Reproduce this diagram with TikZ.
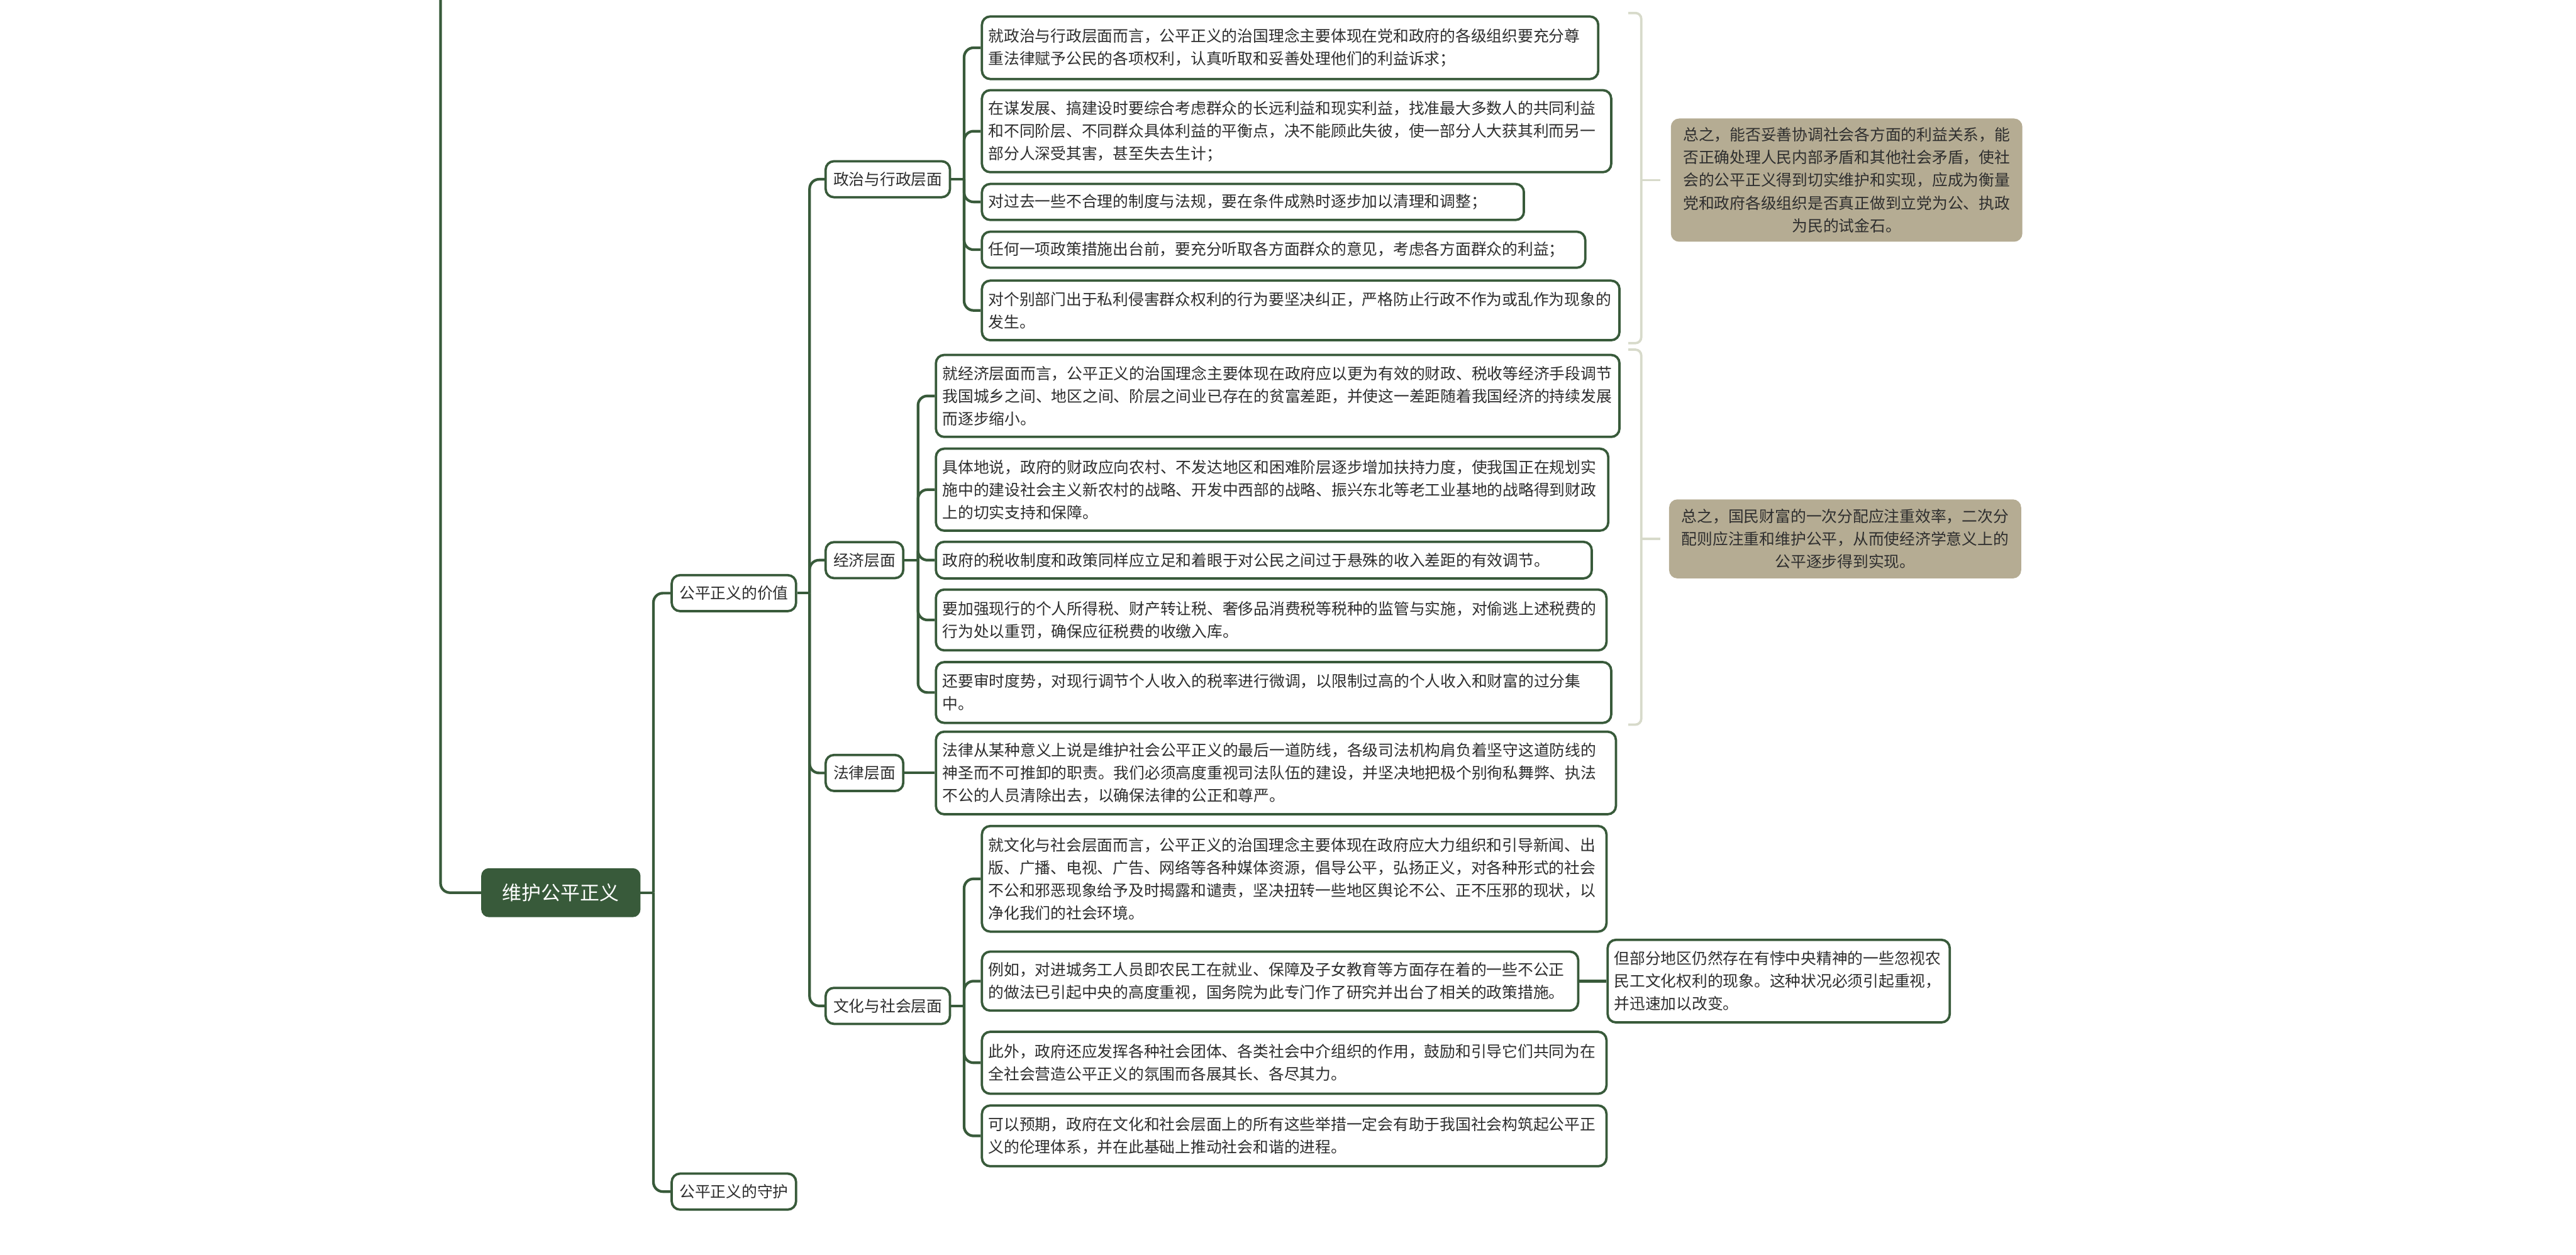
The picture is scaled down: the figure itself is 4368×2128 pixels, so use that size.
\documentclass[tikz,border=0pt]{standalone}
\usepackage{fontspec}
\newfontfamily\cjk{Noto Sans CJK SC}
\definecolor{dg}{HTML}{385A3A}
\definecolor{sumtan}{HTML}{B5AC93}
\definecolor{brkc}{HTML}{D7DACA}
\definecolor{txt}{HTML}{2E2E2E}
\begin{document}
\begin{tikzpicture}[x=1pt,y=-1pt,
  conn/.style={draw=dg, line width=4.5pt, rounded corners=16pt},
  brk/.style={draw=brkc, line width=4pt, rounded corners=10pt},
  leaf/.style={draw=dg, line width=4pt, rounded corners=14pt, fill=white, anchor=west,
    align=left, inner xsep=11pt, inner ysep=0pt, text=txt,
    font=\cjk\fontsize{26.4}{38.5}\selectfont},
  lab/.style={draw=dg, line width=4pt, rounded corners=14pt, fill=white, anchor=west,
    inner xsep=13pt, inner ysep=0pt, minimum height=61pt, text=txt,
    font=\cjk\fontsize{26.4}{30}\selectfont},
  summ/.style={fill=sumtan, draw=none, rounded corners=14pt, anchor=west,
    align=center, inner xsep=20pt, inner ysep=0pt, text=txt,
    font=\cjk\fontsize{26.4}{38.5}\selectfont},
  rootbox/.style={fill=dg, draw=dg, line width=2pt, rounded corners=12pt, anchor=west,
    text=white, minimum width=268pt, minimum height=81pt,
    font=\cjk\fontsize{33}{36}\selectfont}
]
\useasboundingbox (0,0) rectangle (4368,2128);

% root and level 1
\node[rootbox] (root) at (816,1514) {维护公平正义};
\node[lab] (V) at (1137,1006) {公平正义的价值};
\node[lab] (G) at (1137,2021) {公平正义的守护};

% level 2
\node[lab] (Pol) at (1398,304) {政治与行政层面};
\node[lab] (Eco) at (1398,950) {经济层面};
\node[lab] (Law) at (1398,1311) {法律层面};
\node[lab] (Cul) at (1398,1706) {文化与社会层面};

% politics leaves
\node[leaf, text width=1023pt, minimum height=106pt] (P1) at (1663,81)
 {就政治与行政层面而言，公平正义的治国理念主要体现在党和政府的各级组织要充分尊\\重法律赋予公民的各项权利，认真听取和妥善处理他们的利益诉求；};
\node[leaf, text width=1045pt, minimum height=139pt] (P2) at (1663,222.5)
 {在谋发展、搞建设时要综合考虑群众的长远利益和现实利益，找准最大多数人的共同利益\\和不同阶层、不同群众具体利益的平衡点，决不能顾此失彼，使一部分人大获其利而另一\\部分人深受其害，甚至失去生计；};
\node[leaf, text width=897pt, minimum height=61pt] (P3) at (1663,342.5)
 {对过去一些不合理的制度与法规，要在条件成熟时逐步加以清理和调整；};
\node[leaf, text width=1001pt, minimum height=61pt] (P4) at (1663,423.5)
 {任何一项政策措施出台前，要充分听取各方面群众的意见，考虑各方面群众的利益；};
\node[leaf, text width=1059pt, minimum height=101pt] (P5) at (1663,526.5)
 {对个别部门出于私利侵害群众权利的行为要坚决纠正，严格防止行政不作为或乱作为现象的\\发生。};

% economy leaves
\node[leaf, text width=1137pt, minimum height=139pt] (E1) at (1585,671.5)
 {就经济层面而言，公平正义的治国理念主要体现在政府应以更为有效的财政、税收等经济手段调节\\我国城乡之间、地区之间、阶层之间业已存在的贫富差距，并使这一差距随着我国经济的持续发展\\而逐步缩小。};
\node[leaf, text width=1118pt, minimum height=139pt] (E2) at (1585,830.5)
 {具体地说，政府的财政应向农村、不发达地区和困难阶层逐步增加扶持力度，使我国正在规划实\\施中的建设社会主义新农村的战略、开发中西部的战略、振兴东北等老工业基地的战略得到财政\\上的切实支持和保障。};
\node[leaf, text width=1090pt, minimum height=62pt] (E3) at (1585,950)
 {政府的税收制度和政策同样应立足和着眼于对公民之间过于悬殊的收入差距的有效调节。};
\node[leaf, text width=1115pt, minimum height=103pt] (E4) at (1585,1051.5)
 {要加强现行的个人所得税、财产转让税、奢侈品消费税等税种的监管与实施，对偷逃上述税费的\\行为处以重罚，确保应征税费的收缴入库。};
\node[leaf, text width=1123pt, minimum height=103pt] (E5) at (1585,1174.5)
 {还要审时度势，对现行调节个人收入的税率进行微调，以限制过高的个人收入和财富的过分集\\中。};

% law leaf
\node[leaf, text width=1131pt, minimum height=140pt] (L1) at (1585,1311)
 {法律从某种意义上说是维护社会公平正义的最后一道防线，各级司法机构肩负着坚守这道防线的\\神圣而不可推卸的职责。我们必须高度重视司法队伍的建设，并坚决地把极个别徇私舞弊、执法\\不公的人员清除出去，以确保法律的公正和尊严。};

% culture leaves
\node[leaf, text width=1037pt, minimum height=179pt] (C1) at (1663,1490.5)
 {就文化与社会层面而言，公平正义的治国理念主要体现在政府应大力组织和引导新闻、出\\版、广播、电视、广告、网络等各种媒体资源，倡导公平，弘扬正义，对各种形式的社会\\不公和邪恶现象给予及时揭露和谴责，坚决扭转一些地区舆论不公、正不压邪的现状，以\\净化我们的社会环境。};
\node[leaf, text width=989pt, minimum height=100pt] (C2) at (1663,1664)
 {例如，对进城务工人员即农民工在就业、保障及子女教育等方面存在着的一些不公正\\的做法已引起中央的高度重视，国务院为此专门作了研究并出台了相关的政策措施。};
\node[leaf, text width=558pt, minimum height=140pt] (C2s) at (2724,1664)
 {但部分地区仍然存在有悖中央精神的一些忽视农\\民工文化权利的现象。这种状况必须引起重视，\\并迅速加以改变。};
\node[leaf, text width=1037pt, minimum height=105pt] (C3) at (1663,1802.5)
 {此外，政府还应发挥各种社会团体、各类社会中介组织的作用，鼓励和引导它们共同为在\\全社会营造公平正义的氛围而各展其长、各尽其力。};
\node[leaf, text width=1037pt, minimum height=103pt] (C4) at (1663,1926.5)
 {可以预期，政府在文化和社会层面上的所有这些举措一定会有助于我国社会构筑起公平正\\义的伦理体系，并在此基础上推动社会和谐的进程。};

% summaries
\node[summ, text width=556pt, minimum height=209pt] (S1) at (2833,305.5)
 {总之，能否妥善协调社会各方面的利益关系，能\\否正确处理人民内部矛盾和其他社会矛盾，使社\\会的公平正义得到切实维护和实现，应成为衡量\\党和政府各级组织是否真正做到立党为公、执政\\为民的试金石。};
\node[summ, text width=557pt, minimum height=134pt] (S2) at (2830,914)
 {总之，国民财富的一次分配应注重效率，二次分\\配则应注重和维护公平，从而使经济学意义上的\\公平逐步得到实现。};

% trunk coordinates
\path (root.east) ++(22,0) coordinate (tR);
\path (V.east) ++(21,0) coordinate (tV);
\path (Pol.east) ++(22,0) coordinate (tP);
\path (Eco.east) ++(23,0) coordinate (tE);
\path (Cul.east) ++(22,0) coordinate (tC);
\coordinate (topc) at (747,-10);

% connectors
\draw[conn] (root.west) -| (topc);
\draw[conn] (root.east) -- (tR);
\foreach \c in {V,G} \draw[conn] (tR) |- (\c.west);
\draw[conn] (V.east) -- (tV);
\foreach \c in {Pol,Eco,Law,Cul} \draw[conn] (tV) |- (\c.west);
\draw[conn] (Pol.east) -- (tP);
\foreach \c in {P1,P2,P3,P4,P5} \draw[conn] (tP) |- (\c.west);
\draw[conn] (Eco.east) -- (tE);
\foreach \c in {E1,E2,E3,E4,E5} \draw[conn] (tE) |- (\c.west);
\draw[conn] (Law.east) -- (L1.west);
\draw[conn] (Cul.east) -- (tC);
\foreach \c in {C1,C2,C3,C4} \draw[conn] (tC) |- (\c.west);
\draw[conn] (C2.east) -- (C2s.west);

% summary brackets
\coordinate (b1) at (2783,305.5);
\coordinate (b2) at (2783,914);
\draw[brk] (2761,22) -- (2783,22) -- (2783,582) -- (2761,582);
\draw[brk] (b1) -- ++(32,0);
\draw[brk] (2761,593) -- (2783,593) -- (2783,1229) -- (2761,1229);
\draw[brk] (b2) -- ++(32,0);
\end{tikzpicture}
\end{document}
